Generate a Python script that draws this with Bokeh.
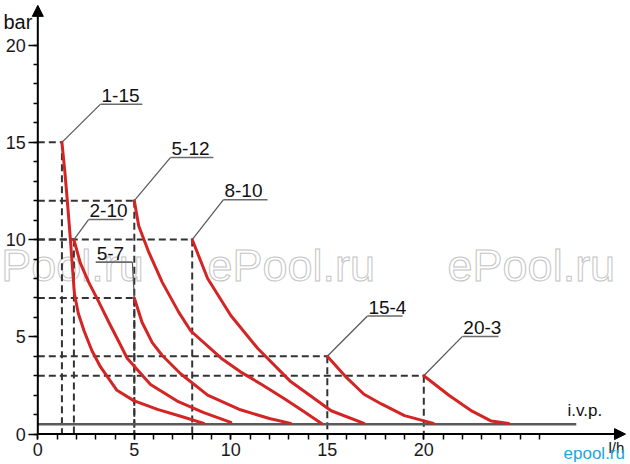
from bokeh.plotting import figure
from bokeh.models import Range1d, FixedTicker, Arrow, NormalHead, Label
from bokeh.embed import file_html
from bokeh.resources import INLINE
from bokeh.core.properties import value

# ---------------- data ----------------
curve_names = ["1-15", "2-10", "5-7", "5-12", "8-10", "15-4", "20-3"]

c_1_15_x = [1.25, 1.4, 1.52, 1.69, 1.8, 1.9, 2.1, 2.4, 2.8, 3.25, 4.1, 4.97, 6.2, 7.4, 8.6]
c_1_15_y = [15.0, 13.5, 12.1, 10.0, 8.5, 7.2, 6.2, 5.3, 4.3, 3.45, 2.25, 1.72, 1.27, 0.92, 0.55]

c_2_10_x = [1.87, 2.2, 2.64, 3.16, 3.68, 4.2, 4.63, 5.84, 7.22, 8.6, 10.0]
c_2_10_y = [10.0, 8.8, 7.8, 6.8, 5.75, 4.75, 3.9, 2.55, 1.7, 1.1, 0.6]

c_5_7_x = [5.0, 5.4, 5.93, 6.45, 7.4, 8.8, 10.5, 12.0, 13.1]
c_5_7_y = [7.0, 5.75, 4.7, 4.04, 3.1, 2.0, 1.25, 0.8, 0.55]

c_5_12_x = [5.0, 5.23, 5.75, 6.45, 7.3, 7.93, 9.5, 10.5, 11.6, 12.8, 13.8, 14.7]
c_5_12_y = [12.0, 10.7, 9.35, 7.8, 6.27, 5.3, 3.9, 3.2, 2.55, 1.8, 1.15, 0.55]

c_8_10_x = [8.0, 8.8, 10.0, 11.4, 13.1, 15.2, 16.9]
c_8_10_y = [10.0, 8.0, 6.1, 4.4, 2.7, 1.2, 0.55]

c_15_4_x = [15.0, 16.0, 16.9, 17.8, 19.0, 20.5]
c_15_4_y = [4.0, 2.9, 2.05, 1.55, 0.95, 0.55]

c_20_3_x = [20.0, 21.3, 22.5, 23.5, 24.4]
c_20_3_y = [3.0, 2.0, 1.18, 0.67, 0.55]

curves_x = [c_1_15_x, c_2_10_x, c_5_7_x, c_5_12_x, c_8_10_x, c_15_4_x, c_20_3_x]
curves_y = [c_1_15_y, c_2_10_y, c_5_7_y, c_5_12_y, c_8_10_y, c_15_4_y, c_20_3_y]

# call-out labels: underline start/end and height
label_x0 = [3.25, 2.63, 3.0, 6.88, 9.62, 17.08, 22.0]
label_x1 = [5.42, 4.44, 4.9, 9.1, 11.9, 18.9, 23.87]
label_y = [16.96, 11.03, 8.84, 14.22, 12.05, 6.07, 5.02]

ivp_level = 0.5
ivp_end = 27.9

x_ticks = [0, 5, 10, 15, 20]
x_minor = list(range(0, 27))
y_ticks = [0, 5, 10, 15, 20]
y_minor = list(range(0, 21))

x_axis_label = "l/h"
y_axis_label = "bar"

# ---------------- figure ----------------
FONT = "Liberation Sans"
RED = "#d42424"
DASH = "#333333"
TXT = "#111111"

# the frame covers the whole canvas; axes are pinned at 0 with fixed_location
X_START, X_END = -1.933, 30.71
Y_START, Y_END = -1.563, 22.29
X_TIP, Y_TIP = 30.45, 22.04

p = figure(width=630, height=464, output_backend="svg", toolbar_location=None,
           x_range=Range1d(X_START, X_END), y_range=Range1d(Y_START, Y_END),
           min_border_left=0, min_border_right=0, min_border_top=0, min_border_bottom=0)
p.outline_line_color = None
p.xgrid.visible = False
p.ygrid.visible = False
p.background_fill_color = "white"

# watermarks (underlay, outlined)
for wx, wt in [(-1.9, "Pool.ru"), (8.79, "ePool.ru"), (21.23, "ePool.ru")]:
    p.add_layout(Label(x=wx, y=8.67, text=wt, text_font=FONT,
                       text_font_size="45px", text_color="white",
                       text_outline_color="#c4c4c4", text_baseline="middle",
                       level="underlay"))

# axes
for ax in (p.xaxis[0], p.yaxis[0]):
    ax.fixed_location = 0
    ax.axis_line_color = None
    ax.major_tick_line_width = 1.5
    ax.minor_tick_line_width = 1.5
    ax.major_tick_line_color = "black"
    ax.minor_tick_line_color = "black"
    ax.major_tick_in = 0
    ax.minor_tick_in = 0
    ax.major_label_text_font = FONT
    ax.major_label_text_color = "#1a1a1a"
    ax.major_label_text_font_size = "18px"

p.xaxis.ticker = FixedTicker(ticks=x_ticks, minor_ticks=x_minor)
p.yaxis.ticker = FixedTicker(ticks=y_ticks, minor_ticks=y_minor)
p.xaxis.major_tick_out = 5
p.xaxis.minor_tick_out = 5
p.yaxis.major_tick_out = 9
p.yaxis.minor_tick_out = 4
p.xaxis.major_label_standoff = 4
p.yaxis.major_label_standoff = 3

# axis lines with arrow heads
p.add_layout(Arrow(end=NormalHead(size=11, fill_color="black", line_color="black"),
                   x_start=0, y_start=0, x_end=0, y_end=Y_TIP,
                   line_color="black", line_width=2))
p.add_layout(Arrow(end=NormalHead(size=11, fill_color="black", line_color="black"),
                   x_start=0, y_start=0, x_end=X_TIP, y_end=0,
                   line_color="black", line_width=2))

# dashed guide lines from each curve's starting point
sx = [c[0] for c in curves_x]
sy = [c[0] for c in curves_y]
p.segment(x0=[0] * len(sx), y0=sy, x1=sx, y1=sy, line_color=DASH,
          line_width=2, line_dash="7 4")
p.segment(x0=sx, y0=sy, x1=sx, y1=[0] * len(sx), line_color=DASH,
          line_width=2, line_dash="7 4")

# i.v.p. line
p.line(x=[0, ivp_end], y=[ivp_level, ivp_level], line_color="#5a5a5a", line_width=2.5)

# red curves
p.multi_line(xs=curves_x, ys=curves_y, line_color=RED, line_width=3,
             line_cap="round", line_join="round")

# leader lines + underlines + call-out texts
lead_x = [a if abs(a - s) <= abs(b - s) else b for a, b, s in zip(label_x0, label_x1, sx)]
p.segment(x0=sx, y0=sy, x1=lead_x, y1=label_y, line_color="#555555", line_width=1.2)
p.segment(x0=label_x0, y0=label_y, x1=label_x1, y1=label_y, line_color="#6a6a6a",
          line_width=1.6)
p.text(x=[v + 0.05 for v in label_x0], y=[v + 0.46 for v in label_y], text=curve_names,
       text_font=value(FONT), text_font_size="19px", text_color=TXT,
       text_baseline="middle", text_align="left")

# i.v.p. text
p.text(x=[27.45], y=[1.21], text=["i.v.p."], text_font=value(FONT),
       text_font_size="17px", text_color=TXT, text_baseline="middle")

# axis titles
p.text(x=[-1.78], y=[21.2], text=[y_axis_label], text_font=value(FONT),
       text_font_size="20px", text_color=TXT, text_baseline="middle")
p.text(x=[29.57], y=[-0.69], text=[x_axis_label], text_font=value(FONT),
       text_font_size="15px", text_color=TXT, text_baseline="middle")
p.text(x=[27.24], y=[-1.0], text=["epool.ru"], text_font=value(FONT),
       text_font_size="17px", text_color="#1ea6dc", text_baseline="middle")

open("out.html", "w").write(file_html(p, INLINE))
